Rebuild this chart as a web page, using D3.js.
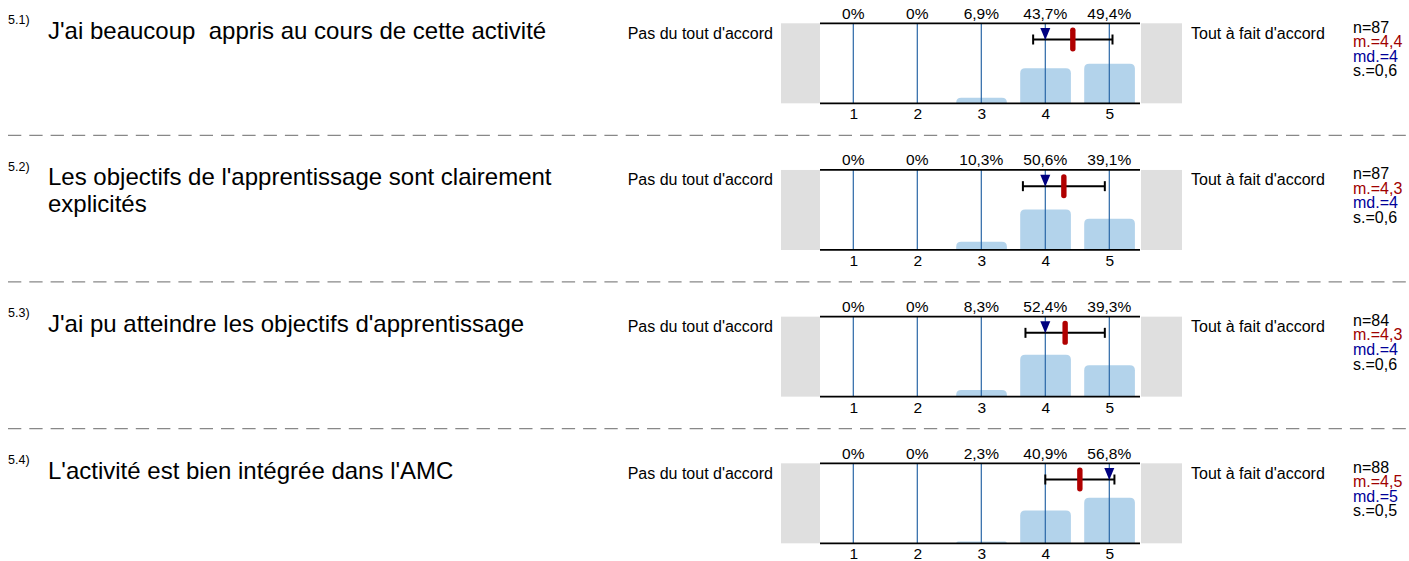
<!DOCTYPE html>
<html><head><meta charset="utf-8">
<script src="https://cdn.jsdelivr.net/npm/d3@7"></script>
<style>body{margin:0;background:#fff;} svg{display:block;font-family:"Liberation Sans",Arial,sans-serif;}</style>
</head><body>
<svg id="c" width="1409" height="561"></svg>
<script>
const numbers = ["5.1)", "5.2)", "5.3)", "5.4)"];
const questions = [
  "J'ai beaucoup  appris au cours de cette activité",
  "Les objectifs de l'apprentissage sont clairement explicités",
  "J'ai pu atteindre les objectifs d'apprentissage",
  "L'activité est bien intégrée dans l'AMC"
];
const categories = [1, 2, 3, 4, 5];
const pct1 = [0, 0, 6.9, 43.7, 49.4];
const pct2 = [0, 0, 10.3, 50.6, 39.1];
const pct3 = [0, 0, 8.3, 52.4, 39.3];
const pct4 = [0, 0, 2.3, 40.9, 56.8];
const percents = [pct1, pct2, pct3, pct4];
const nValues = [87, 87, 84, 88];
const means = [4.43, 4.29, 4.31, 4.54];
const medians = [4, 4, 4, 5];
const sds = [0.62, 0.64, 0.62, 0.54];
const leftLabel = "Pas du tout d'accord";
const rightLabel = "Tout à fait d'accord";

const svg = d3.select("#c");
const rowH = 146.67;
const x = d3.scaleBand().domain(categories).range([821.3, 1141.3]).paddingInner(0.2).paddingOuter(0.1);
const xv = d3.scaleLinear().domain([1, 5]).range([853.3, 1109.3]);
const plotL = 820, plotR = 1140;
const fmt = v => (Math.round(v * 10) / 10).toString().replace(".", ",");

questions.forEach((q, i) => {
  const g = svg.append("g").attr("transform", `translate(0,${i * rowH})`);
  const top = 23.3, bot = 103.3;
  const y = d3.scaleLinear().domain([0, 100]).range([bot, top]);

  g.append("text").attr("x", 8).attr("y", 24).attr("font-size", 12.5).attr("fill", "#000").text(numbers[i]);
  // title, wrapped into separate lines
  const words = q.split(" ");
  let lines = [], line = [];
  const meas = g.append("text").attr("font-size", 24).style("white-space", "pre");
  words.forEach(w => {
    line.push(w);
    meas.text(line.join(" "));
    if (meas.node().getComputedTextLength() > 540 && line.length > 1) {
      line.pop(); lines.push(line.join(" ")); line = [w];
    }
  });
  lines.push(line.join(" "));
  meas.remove();
  lines.forEach((l, k) => {
    g.append("text").attr("x", 48).attr("y", 38.5 + k * 27).attr("font-size", 24).attr("fill", "#000")
      .style("white-space", "pre").text(l);
  });

  // gray boxes
  g.append("rect").attr("x", 781).attr("y", top).attr("width", plotL - 781).attr("height", bot - top).attr("fill", "#dfdfdf");
  g.append("rect").attr("x", plotR + 1).attr("y", top).attr("width", 1182 - plotR - 1).attr("height", bot - top).attr("fill", "#dfdfdf");

  // bars
  const r = 5;
  g.selectAll("path.bar").data(percents[i].map((p, k) => ({p, c: categories[k]}))).enter()
    .filter(d => d.p > 0)
    .append("path").attr("class", "bar").attr("fill", "#b3d3eb")
    .attr("d", d => {
      const x0 = x(d.c) + 0.5, w = x.bandwidth() - 0.5, yt = y(d.p), h = bot - yt;
      const rr = Math.min(r, h, w / 2);
      return `M${x0},${bot}V${yt + rr}Q${x0},${yt} ${x0 + rr},${yt}H${x0 + w - rr}Q${x0 + w},${yt} ${x0 + w},${yt + rr}V${bot}Z`;
    });

  // grid lines
  g.selectAll("line.grid").data(categories).enter().append("line")
    .attr("x1", d => xv(d)).attr("x2", d => xv(d)).attr("y1", top).attr("y2", bot)
    .attr("stroke", "#2a66a6").attr("stroke-width", 1.2);

  // top & bottom borders
  g.append("line").attr("x1", plotL).attr("x2", plotR).attr("y1", top).attr("y2", top).attr("stroke", "#000").attr("stroke-width", 1.8);
  g.append("line").attr("x1", plotL).attr("x2", plotR).attr("y1", bot).attr("y2", bot).attr("stroke", "#000").attr("stroke-width", 1.8);

  // percent labels
  g.selectAll("text.pct").data(percents[i]).enter().append("text")
    .attr("x", (d, k) => xv(categories[k])).attr("y", 18.5).attr("text-anchor", "middle")
    .attr("font-size", 15.5).text(d => fmt(d) + "%");
  // axis labels
  const axis = d3.axisBottom(xv).tickValues(categories).tickSize(0).tickPadding(0).tickFormat(d3.format("d"));
  const ag = g.append("g").attr("transform", `translate(0,${bot})`).call(axis);
  ag.select(".domain").remove();
  ag.selectAll("text").attr("font-size", 15.5).attr("font-family", "Liberation Sans, Arial, sans-serif").attr("fill", "#000").attr("dy", "0").attr("y", 16);

  // side labels
  g.append("text").attr("x", 773).attr("y", 38.5).attr("text-anchor", "end").attr("font-size", 16).text(leftLabel);
  g.append("text").attr("x", 1191).attr("y", 38.5).attr("font-size", 16).text(rightLabel);

  // stats
  const st = [
    {t: "n=" + nValues[i], c: "#000"},
    {t: "m.=" + fmt(means[i]), c: "#a00000"},
    {t: "md.=" + medians[i], c: "#000099"},
    {t: "s.=" + fmt(sds[i]), c: "#000"}
  ];
  g.selectAll("text.st").data(st).enter().append("text")
    .attr("x", 1353).attr("y", (d, k) => 32.5 + k * 14.6).attr("font-size", 16).attr("fill", d => d.c).text(d => d.t);

  // error bar
  const ey = 39.5;
  const xl = xv(means[i] - sds[i]), xr = xv(means[i] + sds[i]);
  g.append("line").attr("x1", xl).attr("x2", xr).attr("y1", ey).attr("y2", ey).attr("stroke", "#000").attr("stroke-width", 2);
  [xl, xr].forEach(xx => g.append("line").attr("x1", xx).attr("x2", xx).attr("y1", ey - 5).attr("y2", ey + 5).attr("stroke", "#000").attr("stroke-width", 2));
  // median triangle
  const mx = xv(medians[i]);
  g.append("path").attr("d", `M${mx - 5},28L${mx + 5},28L${mx},40Z`).attr("fill", "#000080");
  // mean marker
  g.append("rect").attr("x", xv(means[i]) - 2.7).attr("y", 27.5).attr("width", 5.4).attr("height", 24).attr("rx", 2.7).attr("fill", "#b00000");

  if (i < questions.length - 1) {
    g.append("line").attr("x1", 8).attr("x2", 1409).attr("y1", 135.3).attr("y2", 135.3)
      .attr("stroke", "#888").attr("stroke-width", 1.2).attr("stroke-dasharray", "13.3,8");
  }
});
</script>
</body></html>
